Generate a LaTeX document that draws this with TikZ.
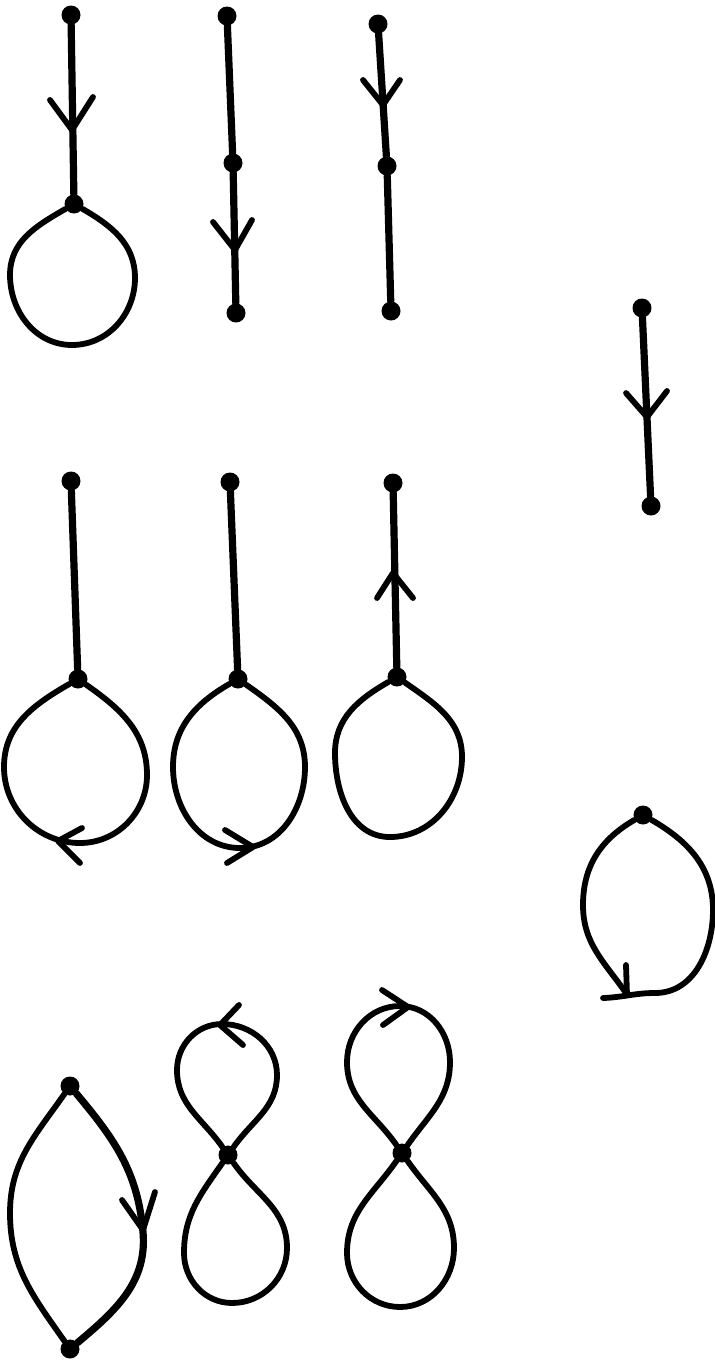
\documentclass[tikz,border=0pt]{standalone}
\begin{document}
\begin{tikzpicture}[x=0.5pt,y=-0.5pt,
  dot/.style={circle,fill=black,inner sep=0pt,minimum size=9.5pt},
  stem/.style={line width=3.6pt,line cap=round,line join=round},
  lp/.style={line width=2.9pt,line cap=round,line join=round},
  barb/.style={line width=2.9pt,line cap=round,line join=round}]
\useasboundingbox (0,0) rectangle (715,1360);
% angles below are in canvas orientation (y up)
% ---------- row 1 ----------
\node[dot] (a1) at (71,15) {};
\node[dot] (a2) at (74,204) {};
\draw[stem] (a1) -- (a2);
\draw[barb] (50,100) -- (72,130) -- (93,97);
\draw[lp] (a2) to[out=-150,in=90] (10,275) to[out=-90,in=180] (72,345)
  to[out=0,in=-90] (135,278) to[out=90,in=-30] (a2);

\node[dot] (b1) at (227,16) {};
\node[dot] (b2) at (233,163) {};
\node[dot] (b3) at (236,313) {};
\draw[stem] (b1) -- (b2) -- (b3);
\draw[barb] (213,222) -- (235,250) -- (252,220);

\node[dot] (c1) at (378,24) {};
\node[dot] (c2) at (387,166) {};
\node[dot] (c3) at (391,311) {};
\draw[stem] (c1) -- (c2) -- (c3);
\draw[barb] (363,80) -- (383,105) -- (400,80);

\node[dot] (d1) at (642,308) {};
\node[dot] (d2) at (651,506) {};
\draw[stem] (d1) -- (d2);
\draw[barb] (626,393) -- (647,417) -- (667,391);

% ---------- row 2 ----------
\node[dot] (e1) at (71,481) {};
\node[dot] (e2) at (78,679) {};
\draw[stem] (e1) -- (e2);
\draw[lp] (e2) to[out=-150,in=90] (4,767) to[out=-90,in=180] (80,843)
  to[out=0,in=-90] (147,775) to[out=90,in=-35] (e2);
\draw[barb] (82,828) -- (58,841) -- (80,863);

\node[dot] (f1) at (230,482) {};
\node[dot] (f2) at (238,679) {};
\draw[stem] (f1) -- (f2);
\draw[lp] (f2) to[out=-150,in=90] (173,767) to[out=-90,in=180] (240,848)
  to[out=0,in=-90] (305,767) to[out=90,in=-35] (f2);
\draw[barb] (225,830) -- (253,847) -- (227,863);

\node[dot] (g1) at (393,483) {};
\node[dot] (g2) at (397,677) {};
\draw[stem] (g1) -- (g2);
\draw[barb] (377,598) -- (393,573) -- (413,598);
\draw[lp] (g2) to[out=-150,in=90] (335,753) to[out=-90,in=180] (390,837)
  to[out=0,in=-90] (462,757) to[out=90,in=-35] (g2);

\node[dot] (h1) at (643,815) {};
\draw[lp] (h1) to[out=-150,in=90] (583,905) to[out=-90,in=125] (626,993);
\draw[lp] (603,998) to[out=2,in=180] (655,993) to[out=0,in=-90] (713,910)
  to[out=90,in=-30] (h1);
\draw[barb] (626,965) -- (627,995);

% ---------- row 3 ----------
\node[dot] (i1) at (70,1086) {};
\node[dot] (i2) at (70,1349) {};
\draw[lp] (i1) to[out=-125,in=90] (10,1213) to[out=-90,in=125] (i2);
\draw[stem] (i1) to[out=-50,in=95] (143,1232) to[out=-85,in=40] (i2);
\draw[barb] (122,1200) -- (143,1230) -- (155,1192);

\node[dot] (j1) at (228,1155) {};
\draw[lp] (j1) to[out=125,in=-90] (177,1070) to[out=90,in=180] (222,1024)
  to[out=0,in=90] (277,1075) to[out=-90,in=55] (j1);
\draw[lp] (j1) to[out=-125,in=90] (184,1253) to[out=-90,in=180] (232,1303)
  to[out=0,in=-90] (287,1248) to[out=90,in=-55] (j1);
\draw[barb] (239,1005) -- (220,1025) -- (243,1045);

\node[dot] (k1) at (402,1153) {};
\draw[lp] (k1) to[out=125,in=-90] (347,1062) to[out=90,in=180] (400,1006)
  to[out=0,in=90] (450,1062) to[out=-90,in=55] (k1);
\draw[lp] (k1) to[out=-125,in=90] (347,1253) to[out=-90,in=180] (400,1307)
  to[out=0,in=-90] (454,1248) to[out=90,in=-55] (k1);
\draw[barb] (382,990) -- (408,1007) -- (383,1025);
\end{tikzpicture}
\end{document}
